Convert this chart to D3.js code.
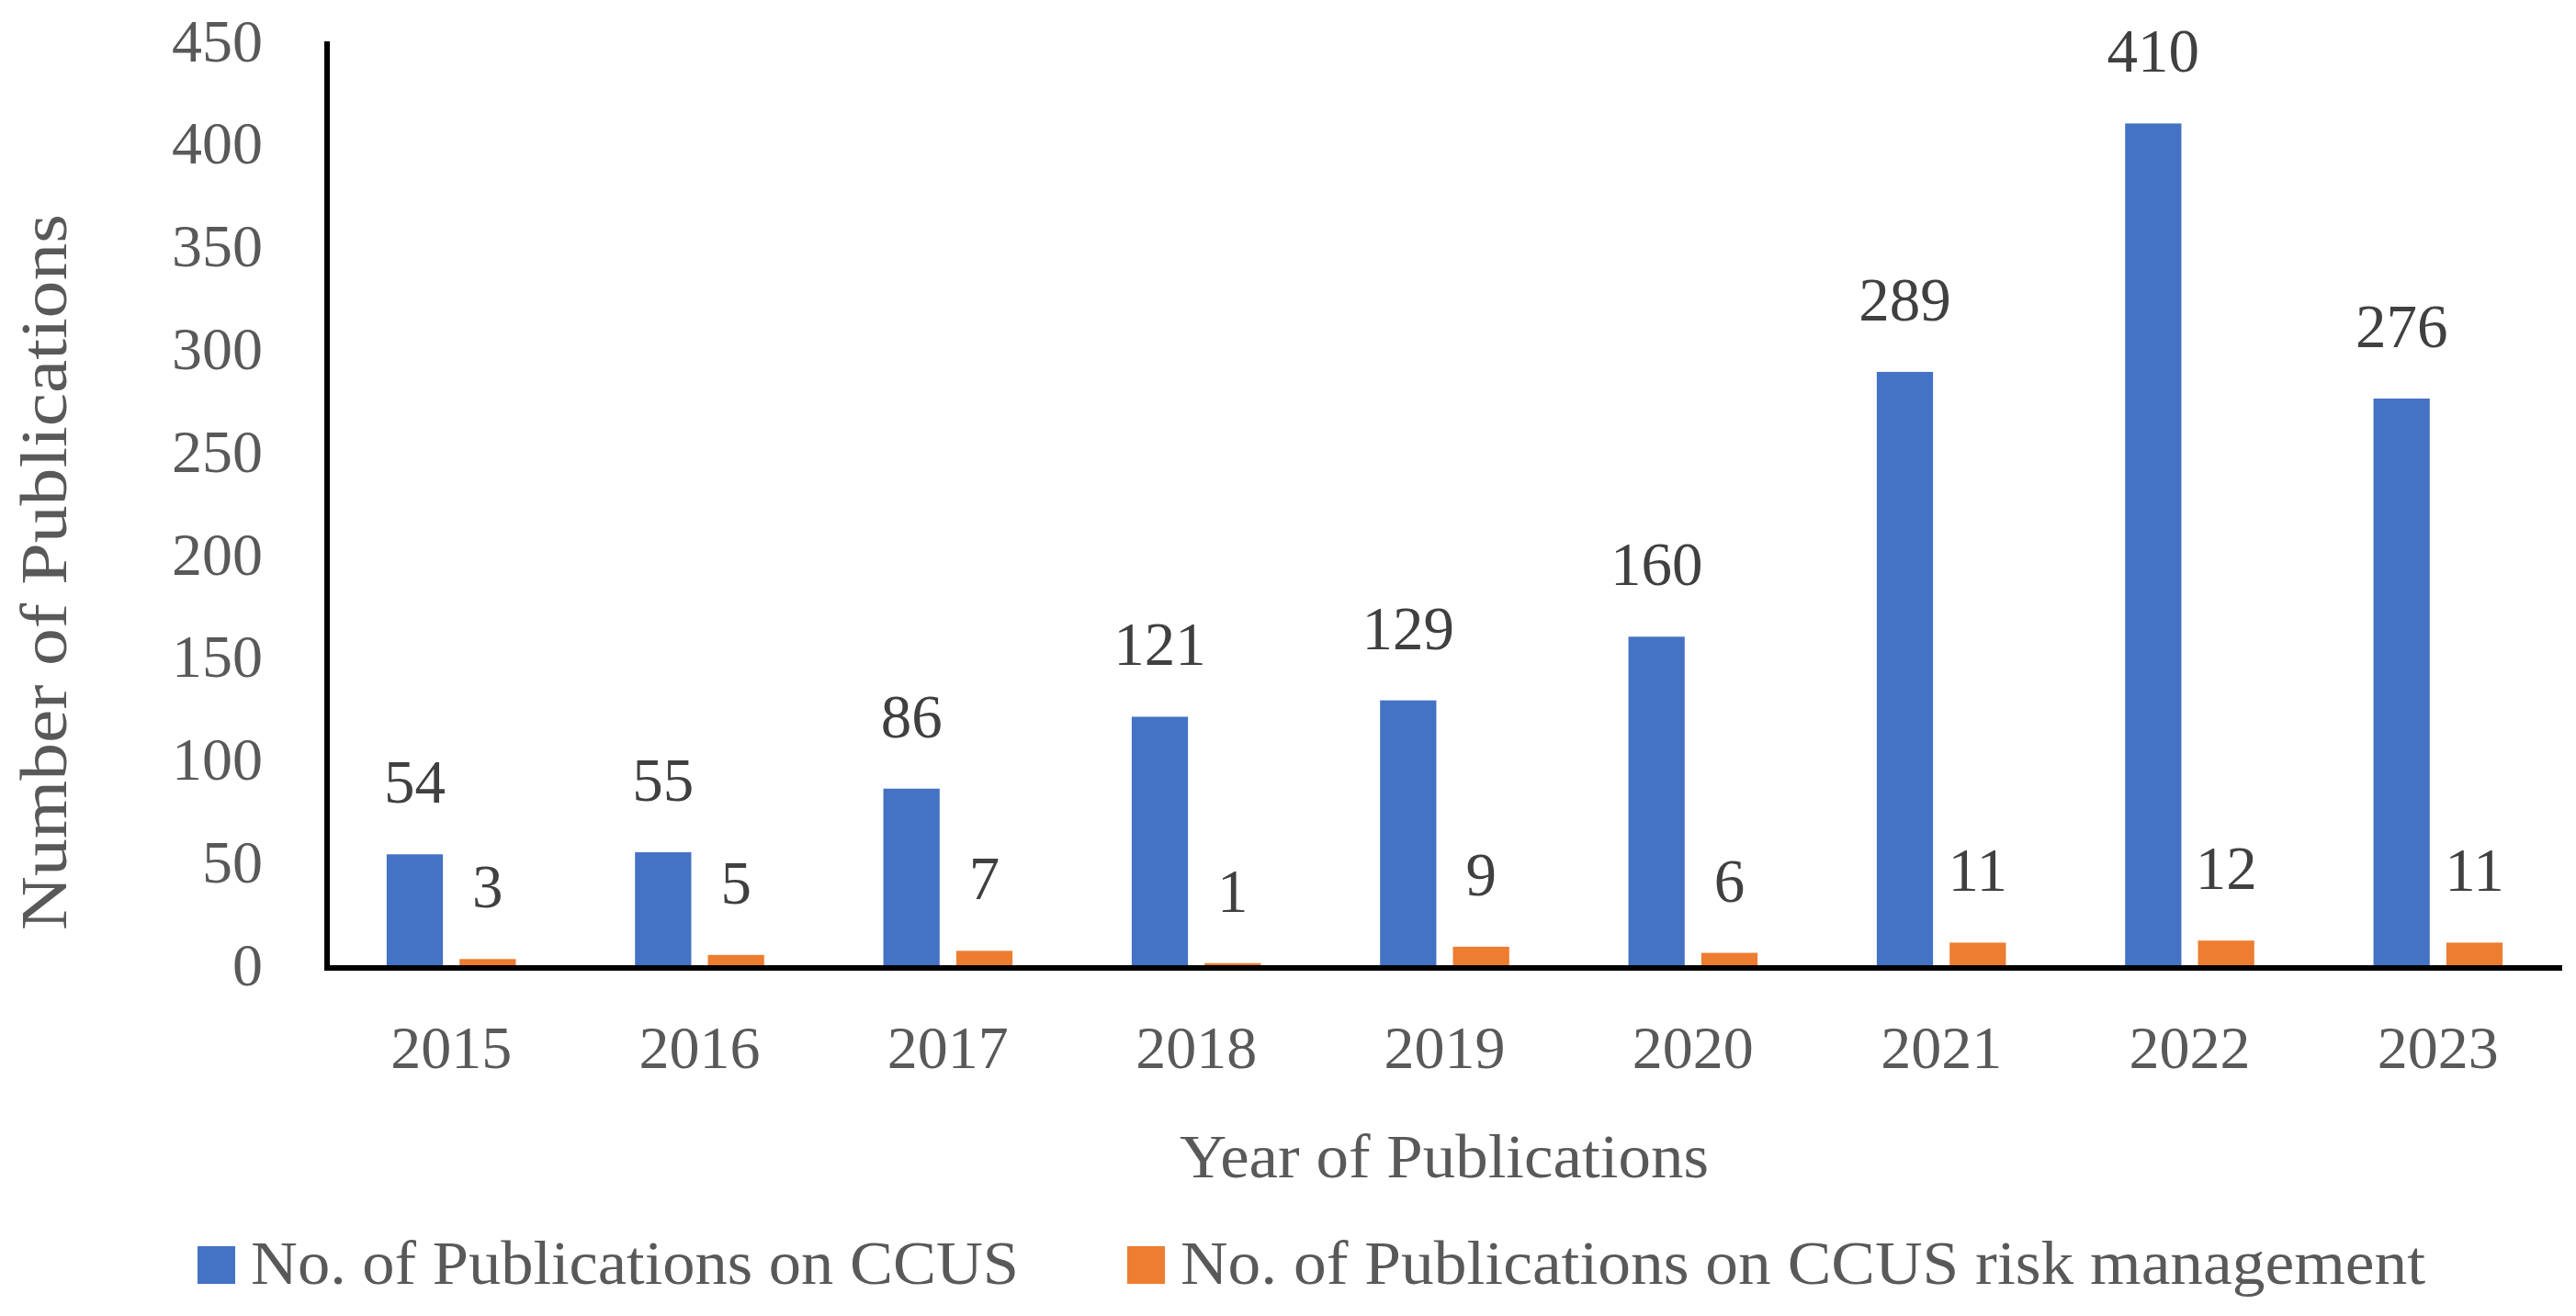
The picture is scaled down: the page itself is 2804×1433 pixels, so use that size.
<!DOCTYPE html>
<html>
<head>
<meta charset="utf-8">
<script src="https://cdn.jsdelivr.net/npm/d3@7"></script>
<style>
  html, body { margin: 0; padding: 0; background: #fff; }
  svg { display: block; }
</style>
</head>
<body>
<svg id="chart" width="2804" height="1433"></svg>
<script>
const years = ["2015", "2016", "2017", "2018", "2019", "2020", "2021", "2022", "2023"];
const ccus = [54, 55, 86, 121, 129, 160, 289, 410, 276];
const ccusRisk = [3, 5, 7, 1, 9, 6, 11, 12, 11];
const seriesNames = ["No. of Publications on CCUS", "No. of Publications on CCUS risk management"];
const seriesColors = ["#4472C4", "#ED7D31"];
const yTicks = [0, 50, 100, 150, 200, 250, 300, 350, 400, 450];

(function () {
const FONT = "'Liberation Serif', 'Times New Roman', serif";
const svg = d3.select("#chart");

const pLeft = 356, pRight = 2789, pTop = 45, pBottom = 1051;

const x = d3.scaleBand().domain(years).range([pLeft, pRight]).paddingInner(0.48).paddingOuter(0.24);
const xs = d3.scaleBand().domain([0, 1]).range([0, x.bandwidth()]).paddingInner(0.228).paddingOuter(0);
const y = d3.scaleLinear().domain([0, 450]).range([pBottom, pTop]);

const rows = years.map((yr, i) => ({ year: yr, vals: [ccus[i], ccusRisk[i]] }));

// bars
const g = svg.append("g");
rows.forEach(r => {
  r.vals.forEach((v, s) => {
    g.append("rect")
      .attr("x", x(r.year) + xs(s))
      .attr("y", y(v))
      .attr("width", xs.bandwidth())
      .attr("height", y(0) - y(v))
      .attr("fill", seriesColors[s]);
    g.append("text")
      .attr("x", x(r.year) + xs(s) + xs.bandwidth() / 2)
      .attr("y", y(v) - 56)
      .attr("text-anchor", "middle")
      .attr("font-family", FONT)
      .attr("font-size", 67)
      .attr("fill", "#404040")
      .text(v);
  });
});

// y axis
const yAxis = d3.axisLeft(y).tickValues(yTicks).tickSize(0).tickPadding(70);
const ya = svg.append("g").attr("transform", `translate(${pLeft},0)`).call(yAxis);
ya.select(".domain").attr("stroke", "#000").attr("stroke-width", 6).attr("d", `M0,${pTop}V${pBottom + 6}`);
ya.selectAll(".tick text").attr("font-family", FONT).attr("font-size", 66).attr("fill", "#595959");

// x axis
const xAxis = d3.axisBottom(x).tickSize(0).tickPadding(62);
const xa = svg.append("g").attr("transform", `translate(0,${pBottom + 3})`).call(xAxis);
xa.select(".domain").attr("stroke", "#000").attr("stroke-width", 6).attr("d", `M${pLeft - 3},0H${pRight}`);
xa.selectAll(".tick text").attr("font-family", FONT).attr("font-size", 66).attr("fill", "#595959");

// axis titles
svg.append("text")
  .attr("transform", `translate(72,623) rotate(-90)`)
  .attr("text-anchor", "middle")
  .attr("font-family", FONT).attr("font-size", 72).attr("fill", "#595959")
  .attr("textLength", 780).attr("lengthAdjust", "spacingAndGlyphs")
  .text("Number of Publications");

svg.append("text")
  .attr("x", 1572).attr("y", 1282)
  .attr("text-anchor", "middle")
  .attr("font-family", FONT).attr("font-size", 67).attr("fill", "#595959")
  .attr("textLength", 576).attr("lengthAdjust", "spacingAndGlyphs")
  .text("Year of Publications");

// legend
const legendX = [215, 1227];
const legendLen = [836, 1355];
seriesNames.forEach((name, i) => {
  svg.append("rect").attr("x", legendX[i]).attr("y", 1357).attr("width", 41).attr("height", 41).attr("fill", seriesColors[i]);
  svg.append("text").attr("x", legendX[i] + 58).attr("y", 1398)
    .attr("font-family", FONT).attr("font-size", 67).attr("fill", "#595959")
    .attr("textLength", legendLen[i]).attr("lengthAdjust", "spacingAndGlyphs")
    .text(name);
});
})();
</script>
</body>
</html>
